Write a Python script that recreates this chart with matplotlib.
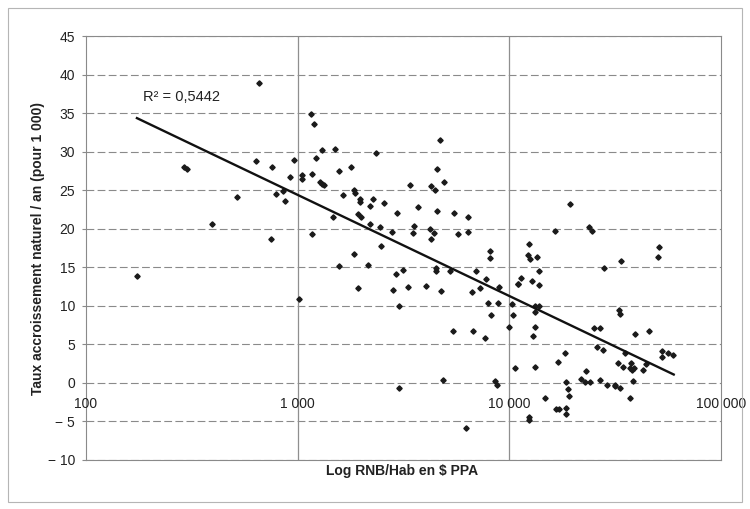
import matplotlib
matplotlib.use("Agg")
import matplotlib.pyplot as plt
from matplotlib.patches import Rectangle
from matplotlib.ticker import FixedLocator, NullLocator

# --- data ---
gni = [659, 290, 300, 634, 757, 915, 519, 789, 848, 873, 393, 747, 174,
       1159, 1188, 966, 1306, 1500, 2335, 1222, 1047, 1047, 1175, 1567, 1786,
       1268, 1297, 1330, 1837, 1858, 1629, 1977, 1960, 2259, 2547, 2195, 2931,
       1476, 1937, 1995, 2204, 2456, 2800, 1175, 2473, 1846, 1576, 2138, 2912,
       1937, 2825, 1014,
       4680, 4570, 4930, 3404, 4275, 4436, 3715, 4570, 5500, 6380, 3534, 3510,
       4230, 4415, 4263, 5700, 6395, 8110, 8110, 3133, 4520, 4520, 5240, 6980,
       7760, 7240, 3320, 4056, 4730, 6685, 8930, 10990, 3027, 7960, 8830, 10300,
       8190, 10450, 5410, 6710, 7640, 9930, 4840, 3027, 8530, 8770, 10590, 6240,
       19360, 16370, 23720, 24500, 12450, 12250, 12560, 13550, 13800, 28050,
       11300, 10940, 12850, 13770, 13270, 13870, 13210, 13180, 12880, 25240,
       26840, 25880, 27720, 13180, 16980, 18320, 22960, 21830, 22880, 24080,
       18530, 26840, 28980, 31690, 18930, 19230, 14690, 16640, 17110, 18620,
       18620, 12390, 12390,
       51170, 50450, 33740, 33060, 33260, 39450, 45920, 52480, 52720, 56480,
       59150, 35240, 32500, 34590, 37600, 37240, 38040, 38870, 42640, 44260,
       38550, 31620, 33490, 37240]
growth = [39.0, 28.0, 27.8, 28.8, 28.1, 26.7, 24.1, 24.6, 24.9, 23.6, 20.7, 18.7, 13.9,
          34.9, 33.6, 28.9, 30.2, 30.4, 29.9, 29.2, 27.0, 26.5, 27.1, 27.5, 28.0,
          26.1, 25.9, 25.7, 25.1, 24.7, 24.4, 23.9, 23.5, 23.9, 23.4, 23.0, 22.1,
          21.5, 21.9, 21.5, 20.7, 20.3, 19.6, 19.3, 17.8, 16.7, 15.2, 15.3, 14.1,
          12.4, 12.1, 10.95,
          31.6, 27.8, 26.1, 25.7, 25.6, 25.0, 22.9, 22.3, 22.1, 21.5, 20.4, 19.5,
          20.0, 19.5, 18.7, 19.3, 19.6, 17.1, 16.2, 14.7, 14.9, 14.5, 14.5, 14.5,
          13.5, 12.3, 12.5, 12.6, 12.0, 11.8, 12.5, 12.9, 10.0, 10.4, 10.4, 10.3,
          8.8, 8.8, 6.7, 6.7, 5.9, 7.3, 0.4, -0.6, 0.3, -0.3, 2.0, -5.9,
          23.2, 19.7, 20.2, 19.7, 18.0, 16.6, 16.1, 16.3, 14.6, 14.9,
          13.6, 12.8, 13.3, 12.7, 9.95, 9.95, 9.2, 7.3, 6.1, 7.2,
          7.2, 4.7, 4.3, 2.1, 2.7, 3.9, 1.5, 0.5, 0.1, 0.1,
          0.1, 0.4, -0.2, -0.35, -0.8, -1.7, -2.0, -3.35, -3.35, -3.3,
          -4.0, -4.4, -4.8,
          17.6, 16.4, 15.9, 9.5, 8.9, 6.3, 6.7, 4.2, 3.4, 3.95,
          3.65, 3.95, 2.65, 2.1, 2.65, 1.9, 1.65, 2.0, 1.7, 2.5,
          0.3, -0.3, -0.6, -1.9]

# logarithmic trend line (ends as drawn in the source)
trend_x = [174, 59800]
trend_y = [34.4, 1.1]
r2_label = "R² = 0,5442"

x_ticks = [100, 1000, 10000, 100000]
x_tick_labels = ["100", "1 000", "10 000", "100 000"]
y_ticks = [45, 40, 35, 30, 25, 20, 15, 10, 5, 0, -5, -10]
y_tick_labels = ["45", "40", "35", "30", "25", "20", "15", "10", "5", "0",
                 "\u2212 5", "\u2212 10"]

plt.rcParams['font.family'] = ['Liberation Sans', 'DejaVu Sans']

fig = plt.figure(figsize=(7.5, 5.09), dpi=100)
ax = fig.add_axes([0.1147, 0.0963, 0.8466, 0.832])

# outer chart border
fig.patches.append(Rectangle((0.011, 0.014), 0.978, 0.97, transform=fig.transFigure,
                             fill=False, edgecolor='#b5b5b5', linewidth=0.8))

ax.set_xscale('log')
ax.set_xlim(100, 100000)
ax.set_ylim(-10, 45)

# gridlines
for yv in y_ticks:
    ax.axhline(yv, color='#8a8a8a', linewidth=0.8, dashes=(7, 3), zorder=1)
for xv in x_ticks[1:-1]:
    ax.axvline(xv, color='#8f8f8f', linewidth=0.9, zorder=1)

ax.plot(gni, growth, linestyle='none', marker='D', markersize=2.7,
        color='#1a1a1a', zorder=3)
ax.plot(trend_x, trend_y, color='#111111', linewidth=1.7, zorder=4)
ax.text(186, 37.2, r2_label, fontsize=10.5, va='center', ha='left', color='#222222')

# axis: horizontal axis crosses at 0 (Excel style)
for s in ax.spines.values():
    s.set_color('#8a8a8a')
    s.set_linewidth(0.8)
ax.xaxis.set_major_locator(FixedLocator(x_ticks))
ax.xaxis.set_minor_locator(NullLocator())
ax.set_xticklabels([])
ax.tick_params(axis='x', length=0)
for xv, lab in zip(x_ticks, x_tick_labels):
    ax.annotate(lab, (xv, 0), xytext=(0, -15), textcoords='offset points',
                ha='center', va='center', fontsize=10, color='#222222')

ax.yaxis.set_major_locator(FixedLocator(y_ticks))
ax.set_yticklabels(y_tick_labels, fontsize=10, color='#222222')
ax.tick_params(axis='y', length=3, color='#8a8a8a', pad=5)

ax.set_ylabel("Taux accroissement naturel / an (pour 1 000)", fontsize=10,
              fontweight='bold', color='#222222', labelpad=2)
fig.text(402 / 750, 1 - 471 / 509, "Log RNB/Hab en $ PPA", fontsize=10,
         fontweight='bold', ha='center', va='center', color='#222222')

fig.savefig("out.png", dpi=100, facecolor='white')
